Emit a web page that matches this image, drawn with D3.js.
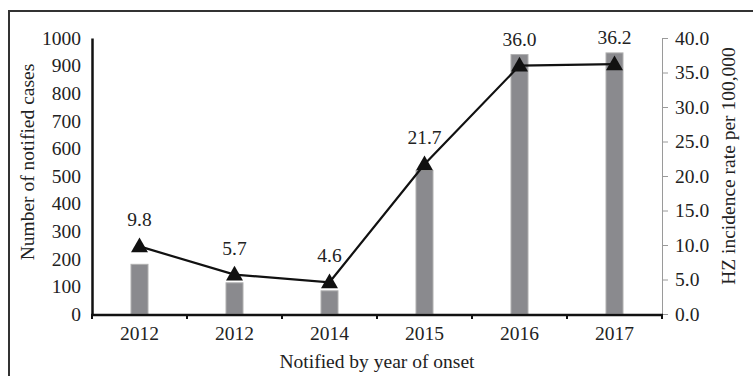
<!DOCTYPE html>
<html><head><meta charset="utf-8">
<script src="https://cdn.jsdelivr.net/npm/d3@7"></script>
<style>html,body{margin:0;padding:0;background:#fff;}svg{display:block;}</style>
</head><body>
<svg id="c" width="753" height="376"></svg>
<script>
const categories = ["2012", "2012", "2014", "2015", "2016", "2017"];
const cases = [180, 113, 84, 520, 940, 946];
const rates = [9.8, 5.7, 4.6, 21.7, 36.0, 36.2];
const leftTicks = [0, 100, 200, 300, 400, 500, 600, 700, 800, 900, 1000];
const rightTicks = [0, 5, 10, 15, 20, 25, 30, 35, 40];

const svg = d3.select("#c");
const font = "'Liberation Serif', 'Times New Roman', serif";
const fs = 19.5;
const L = 92, R = 662, T = 38, B = 314;

// frame
svg.append("path").attr("d", `M9,376 L9,11 L753,11`).attr("fill", "none")
  .attr("stroke", "#333").attr("stroke-width", 2);

const x = d3.scaleBand().domain(d3.range(categories.length)).range([L, R]);
const yL = d3.scaleLinear().domain([0, 1000]).range([B, T]);
const yR = d3.scaleLinear().domain([0, 40]).range([B, T]);

// bars
const bw = 17;
svg.append("g").selectAll("rect").data(cases).join("rect")
  .attr("x", (d, i) => x(i) + x.bandwidth() / 2 - bw / 2)
  .attr("y", d => yL(d))
  .attr("width", bw)
  .attr("height", d => B - yL(d))
  .attr("fill", "#8a8a8e")
  .attr("stroke", "#b0b0b0").attr("stroke-width", 1);

// left axis
const gL = svg.append("g").attr("transform", `translate(${L},0)`)
  .call(d3.axisLeft(yL).tickValues(leftTicks).tickSize(0).tickPadding(11).tickFormat(d3.format("d")));
gL.select(".domain").attr("stroke", "#111").attr("stroke-width", 2.5);
gL.selectAll("text").attr("font-family", font).attr("font-size", fs).attr("fill", "#222");

// right axis
const gR = svg.append("g").attr("transform", `translate(${R},0)`)
  .call(d3.axisRight(yR).tickValues(rightTicks).tickSize(6).tickSizeOuter(0).tickPadding(7).tickFormat(d3.format(".1f")));
gR.select(".domain").attr("stroke", "#9a9a9a").attr("stroke-width", 1);
gR.selectAll(".tick line").attr("stroke", "#9a9a9a");
gR.selectAll("text").attr("font-family", font).attr("font-size", fs).attr("fill", "#222");

// x axis
const xb = d3.scaleLinear().domain([0, categories.length]).range([L, R]);
const gX = svg.append("g").attr("transform", `translate(0,${B + 1})`);
gX.append("line").attr("x1", L - 1).attr("x2", R + 1).attr("y1", 0).attr("y2", 0)
  .attr("stroke", "#111").attr("stroke-width", 2.5);
gX.selectAll("line.tk").data(d3.range(categories.length + 1)).join("line").attr("class", "tk")
  .attr("x1", d => xb(d)).attr("x2", d => xb(d)).attr("y1", 0).attr("y2", 4)
  .attr("stroke", "#111").attr("stroke-width", 2);
gX.selectAll("text").data(categories).join("text")
  .attr("x", (d, i) => x(i) + x.bandwidth() / 2).attr("y", 25)
  .attr("text-anchor", "middle").attr("font-family", font).attr("font-size", fs).attr("fill", "#222")
  .text(d => d);

// line
const cx = i => x(i) + x.bandwidth() / 2;
svg.append("path").datum(rates)
  .attr("d", d3.line().x((d, i) => cx(i)).y(d => yR(d)))
  .attr("fill", "none").attr("stroke", "#111").attr("stroke-width", 2.2);
svg.append("g").selectAll("path").data(rates).join("path")
  .attr("transform", (d, i) => `translate(${cx(i)},${yR(d) + 1})`)
  .attr("d", d3.symbol().type(d3.symbolTriangle).size(125))
  .attr("fill", "#111");

// data labels
svg.append("g").selectAll("text").data(rates).join("text")
  .attr("x", (d, i) => cx(i)).attr("y", d => yR(d) - 20)
  .attr("text-anchor", "middle").attr("font-family", font).attr("font-size", fs).attr("fill", "#222")
  .text(d => d3.format(".1f")(d));

// titles
svg.append("text").attr("transform", "translate(34,162) rotate(-90)")
  .attr("text-anchor", "middle").attr("font-family", font).attr("font-size", fs).attr("fill", "#222")
  .text("Number of notified cases");
svg.append("text").attr("transform", "translate(735,166) rotate(-90)")
  .attr("text-anchor", "middle").attr("font-family", font).attr("font-size", fs).attr("fill", "#222")
  .text("HZ incidence rate per 100,000");
svg.append("text").attr("x", 377).attr("y", 368)
  .attr("text-anchor", "middle").attr("font-family", font).attr("font-size", fs).attr("fill", "#222")
  .text("Notified by year of onset");
</script>
</body></html>
